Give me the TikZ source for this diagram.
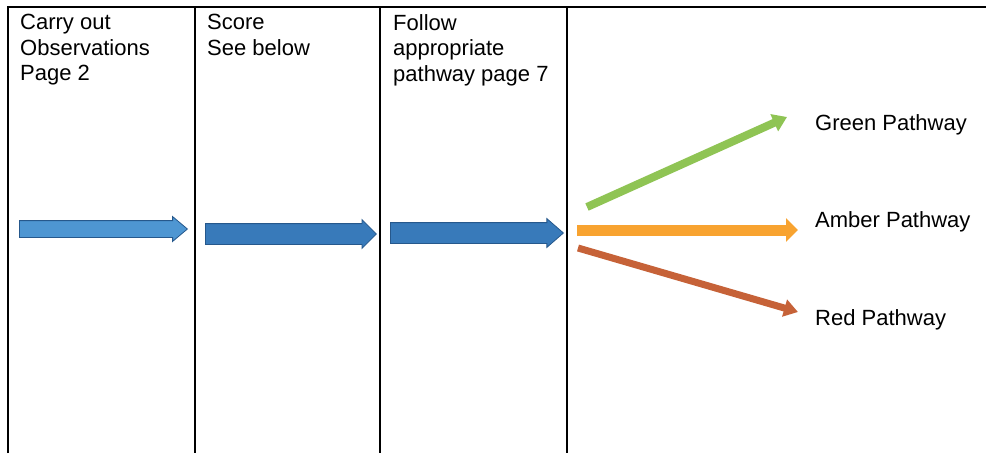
\documentclass[tikz,border=0pt]{standalone}
\usepackage{fontspec}
\setmainfont{Liberation Sans}
\usepackage{tikz}
\usetikzlibrary{arrows.meta}
\usetikzlibrary{shapes.arrows}

\definecolor{bluelight}{RGB}{78,150,210}
\definecolor{bluedark}{RGB}{56,122,186}
\definecolor{blueedge}{RGB}{38,88,140}
\definecolor{pathgreen}{RGB}{143,196,84}
\definecolor{pathamber}{RGB}{248,163,48}
\definecolor{pathred}{RGB}{198,98,56}

\begin{document}
\begin{tikzpicture}[x=1pt,y=-1pt,
  cell/.style={anchor=north west,inner sep=0pt,align=left,font=\fontsize{22}{25.5}\selectfont},
  pathlabel/.style={anchor=base west,inner sep=0pt,font=\fontsize{22}{26}\selectfont},
  block/.style={single arrow,draw=blueedge,line width=0.8pt,inner xsep=0pt,anchor=west,
    single arrow head extend=4pt,single arrow head indent=0pt}]

\useasboundingbox (0,0) rectangle (988,453);
\fill[white] (0,0) rectangle (988,453);

\draw[line width=1.4pt] (8,453) -- (8,7) -- (986,7);
\foreach \x in {195,380,567} \draw[line width=1.4pt] (\x,7) -- (\x,453);

\node[cell] (obs) at (20,14) {Carry out\\Observations\\Page 2};
\node[cell] (score) at (207,14) {Score\\See below};
\node[cell] (follow) at (393,14) {Follow\\appropriate\\pathway page 7};

\node[block,fill=bluelight,inner ysep=8pt,minimum height=168pt,minimum width=24pt,single arrow tip angle=80] (arrA) at (19,229) {};
\node[block,fill=bluedark,inner ysep=10pt,minimum height=171pt,minimum width=28pt,single arrow tip angle=90] (arrB) at (205,234) {};
\node[block,fill=bluedark,inner ysep=10pt,minimum height=173pt,minimum width=28pt,single arrow tip angle=82] (arrC) at (390,233) {};

\coordinate (gtail) at (587,207); \coordinate (gtip) at (787,117);
\coordinate (atail) at (577,230); \coordinate (atip) at (798,230);
\coordinate (rtail) at (578,248); \coordinate (rtip) at (798,312);
\draw[pathgreen,line width=8pt,-{Triangle[width=18pt,length=14pt]}] (gtail) -- (gtip);
\draw[pathamber,line width=11pt,-{Triangle[width=23pt,length=12pt]}] (atail) -- (atip);
\draw[pathred,line width=7pt,-{Triangle[width=17pt,length=14pt]}] (rtail) -- (rtip);

\node[pathlabel] (green) at (815,130) {Green Pathway};
\node[pathlabel] (amber) at (815,227) {Amber Pathway};
\node[pathlabel] (red) at (815,325) {Red Pathway};

\end{tikzpicture}
\end{document}
